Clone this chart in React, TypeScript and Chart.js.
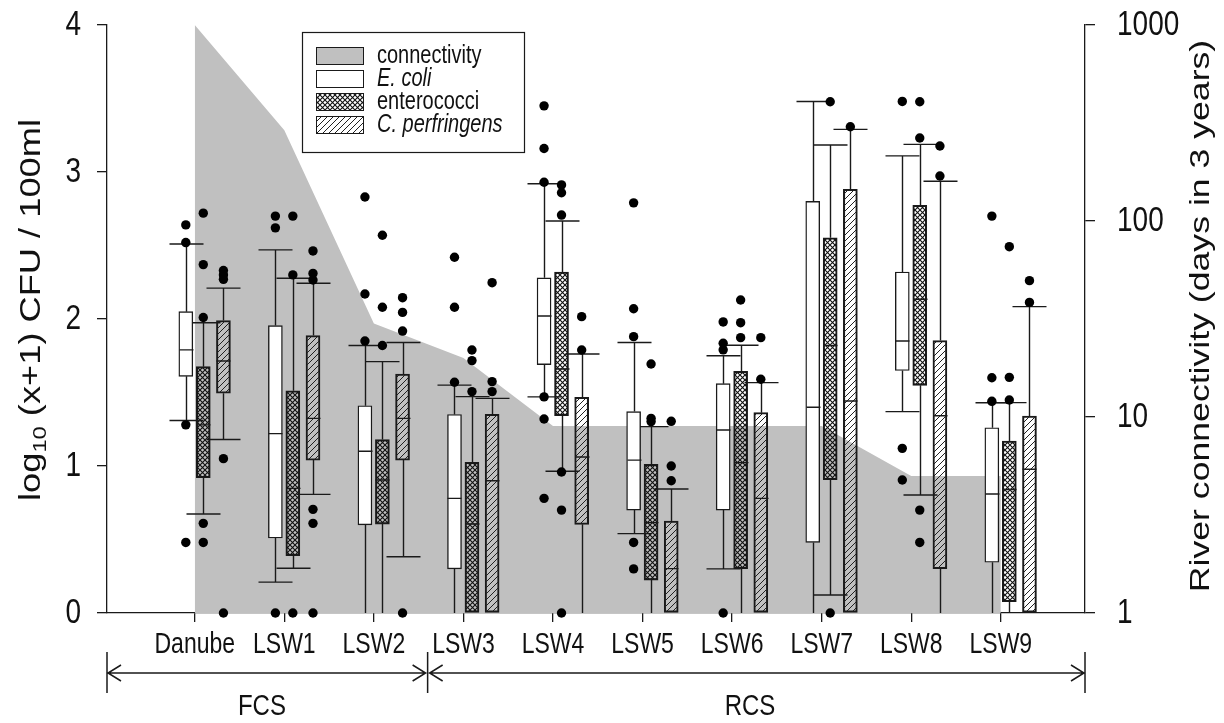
import React, { useEffect, useRef } from 'react';
import { Chart, registerables } from 'chart.js';

Chart.register(...registerables);

// ---------------- data ----------------
const categories = ['Danube', 'LSW1', 'LSW2', 'LSW3', 'LSW4', 'LSW5', 'LSW6', 'LSW7', 'LSW8', 'LSW9'];
const connectivityDays = [1000, 290, 30, 20, 9, 9, 9, 9, 5, 5];

const ecoliLow = [1.31, 0.21, 0, 0, 1.47, 0.54, 0.3, 0, 1.37, 0];
const ecoliQ1 = [1.61, 0.51, 0.6, 0.3, 1.69, 0.7, 0.7, 0.48, 1.65, 0.345];
const ecoliMedian = [1.79, 1.22, 1.1, 0.78, 2.02, 1.04, 1.245, 1.4, 1.85, 0.81];
const ecoliQ3 = [2.05, 1.955, 1.41, 1.35, 2.28, 1.37, 1.56, 2.8, 2.32, 1.26];
const ecoliHigh = [2.51, 2.47, 1.82, 1.55, 2.92, 1.84, 1.75, 3.48, 3.11, 1.43];
const ecoliOutliers = [
  [2.64, 2.52, 1.28, 0.48], [2.7, 2.62, 0], [2.83, 2.17, 1.85], [2.42, 2.08, 1.57],
  [3.45, 3.16, 2.93, 1.47, 1.32, 0.78], [2.79, 2.07, 1.88, 0.48, 0.3], [1.98, 1.835, 1.79, 0],
  [], [3.48, 1.12, 0.905], [2.7, 1.6, 1.44],
];

const enteroLow = [0.673, 0.304, 0, 0, 0.964, 0, 0, 0.122, 0.803, 0];
const enteroQ1 = [0.92, 0.39, 0.605, 0, 1.342, 0.224, 0.302, 0.907, 1.549, 0.077];
const enteroMedian = [1.28, 0.848, 0.905, 0.605, 1.66, 0.615, 1.023, 1.82, 2.134, 0.84];
const enteroQ3 = [1.676, 1.512, 1.18, 1.025, 2.32, 1.011, 1.644, 2.553, 2.773, 1.17];
const enteroHigh = [1.975, 2.277, 1.71, 1.472, 2.667, 1.268, 1.821, 3.184, 3.188, 1.431];
const enteroOutliers = [
  [2.72, 2.37, 2.01, 0.61, 0.48], [2.7, 2.3, 0], [2.57, 2.08, 1.82], [1.789, 1.717, 1.506],
  [2.912, 2.859, 2.707, 0.959, 0.7, 0], [1.694, 1.324, 1.302], [2.129, 1.975, 1.873],
  [3.478, 0], [3.478, 3.231, 0.7, 0.48], [2.492, 1.603, 1.449],
];

const cperfLow = [1.18, 0.807, 0.383, 0, 0, 0, 0, 0, 0, 0];
const cperfQ1 = [1.495, 1.04, 1.04, 0, 0.603, 0, 0, 0, 0.302, 0];
const cperfMedian = [1.714, 1.324, 1.324, 0.9, 1.061, 0.302, 0.78, 1.442, 1.342, 0.978];
const cperfQ3 = [1.99, 1.887, 1.626, 1.352, 1.467, 0.626, 1.363, 2.882, 1.853, 1.34];
const cperfHigh = [2.21, 2.243, 1.84, 1.46, 1.762, 0.844, 1.567, 3.29, 2.937, 2.084];
const cperfOutliers = [
  [2.33, 2.3, 2.27, 1.05, 0], [2.463, 2.31, 2.265, 0.705, 0.61, 0], [2.145, 2.045, 1.918, 0],
  [2.247, 1.574, 1.506], [2.016, 1.789], [1.304, 1.0, 0.9], [1.873, 1.59], [3.308],
  [3.177, 2.973], [2.261, 2.113],
];

const seriesLabels = ['E. coli', 'enterococci', 'C. perfringens'];
const legendLabels = ['connectivity', ...seriesLabels];
const groupLabels = ['FCS', 'RCS'];
const yTicks = [0, 1, 2, 3, 4];
const connTicks = [1, 10, 100, 1000];

// ---------------- style / layout ----------------
const FONT = '"Liberation Sans", Arial, Helvetica, sans-serif';
const STRETCH = 1.25; // the reference figure is stretched vertically
const INK = '#1a1a1a';
const GRAY = '#c0c0c0';
const seriesOffsets = [-0.1, 0.095, 0.32];
const BOX_W = 14;
const CAP_HALF = 17;
const FCS_SPLIT = 3.6;
const GROUP_LABEL_X = [1.75, 7.2];

const stats = [
  { low: ecoliLow, q1: ecoliQ1, med: ecoliMedian, q3: ecoliQ3, high: ecoliHigh, out: ecoliOutliers },
  { low: enteroLow, q1: enteroQ1, med: enteroMedian, q3: enteroQ3, high: enteroHigh, out: enteroOutliers },
  { low: cperfLow, q1: cperfQ1, med: cperfMedian, q3: cperfQ3, high: cperfHigh, out: cperfOutliers },
];

function makeCross(): CanvasPattern | string {
  const c = document.createElement('canvas');
  c.width = 5; c.height = 5;
  const g = c.getContext('2d');
  if (!g) return '#666';
  g.strokeStyle = '#111';
  g.lineWidth = 1.1;
  g.beginPath();
  g.moveTo(-1, -1); g.lineTo(6, 6);
  g.moveTo(6, -1); g.lineTo(-1, 6);
  g.stroke();
  return g.createPattern(c, 'repeat') || '#666';
}

function makeDiag(): CanvasPattern | string {
  const c = document.createElement('canvas');
  c.width = 6; c.height = 6;
  const g = c.getContext('2d');
  if (!g) return '#999';
  g.strokeStyle = '#222';
  g.lineWidth = 1;
  g.beginPath();
  g.moveTo(-1, 7); g.lineTo(7, -1);
  g.moveTo(-1, 1); g.lineTo(1, -1);
  g.moveTo(5, 7); g.lineTo(7, 5);
  g.stroke();
  return g.createPattern(c, 'repeat') || '#999';
}

function stretchedText(
  ctx: CanvasRenderingContext2D, text: string, x: number, y: number, font: string,
  sx: number, sy: number, align: CanvasTextAlign, baseline: CanvasTextBaseline,
) {
  ctx.save();
  ctx.translate(x, y);
  ctx.scale(sx, sy);
  ctx.font = font;
  ctx.textAlign = align;
  ctx.textBaseline = baseline;
  ctx.fillText(text, 0, 0);
  ctx.restore();
}

const noScalePadding = (s: any) => { s.paddingTop = 0; s.paddingBottom = 0; };

export default function App() {
  const ref = useRef<HTMLCanvasElement | null>(null);

  useEffect(() => {
    const canvas = ref.current;
    if (!canvas) return;
    const cross = makeCross();
    const diag = makeDiag();
    const fills: any[] = ['#ffffff', cross, diag];

    Chart.defaults.font.family = FONT;
    Chart.defaults.color = '#111';

    const boxDatasets = stats.map((st, s) => ({
      type: 'bar' as const,
      label: seriesLabels[s],
      data: categories.map((_, i) => ({ x: i + 1 + seriesOffsets[s], y: [st.q1[i], st.q3[i]] })),
      backgroundColor: fills[s],
      borderColor: INK,
      borderWidth: 1.4,
      borderSkipped: false,
      barThickness: BOX_W,
      grouped: false,
      xAxisID: 'x',
      yAxisID: 'y',
      order: 2,
    }));

    const outlierData: { x: number; y: number }[] = [];
    stats.forEach((st, s) => {
      st.out.forEach((vals, i) => {
        vals.forEach((v) => outlierData.push({ x: i + 1 + seriesOffsets[s], y: v }));
      });
    });

    const whiskerPlugin = {
      id: 'whiskers',
      afterDatasetDraw(chart: any, args: any) {
        const idx = args.index;
        if (idx < 1 || idx > 3) return;
        const s = idx - 1;
        const st = stats[s];
        const xs = chart.scales.x;
        const ys = chart.scales.y;
        const ctx = chart.ctx;
        ctx.save();
        ctx.strokeStyle = INK;
        ctx.lineWidth = 1.4;
        categories.forEach((_, i) => {
          const x = Math.round(xs.getPixelForValue(i + 1 + seriesOffsets[s])) + 0.5;
          const pLow = ys.getPixelForValue(st.low[i]);
          const pQ1 = ys.getPixelForValue(st.q1[i]);
          const pMed = ys.getPixelForValue(st.med[i]);
          const pQ3 = ys.getPixelForValue(st.q3[i]);
          const pHigh = ys.getPixelForValue(st.high[i]);
          ctx.beginPath();
          ctx.moveTo(x, pQ3); ctx.lineTo(x, pHigh);
          ctx.moveTo(x - CAP_HALF, pHigh); ctx.lineTo(x + CAP_HALF, pHigh);
          if (st.q1[i] > st.low[i]) {
            ctx.moveTo(x, pQ1); ctx.lineTo(x, pLow);
          }
          if (st.low[i] > 0) {
            ctx.moveTo(x - CAP_HALF, pLow); ctx.lineTo(x + CAP_HALF, pLow);
          }
          ctx.moveTo(x - BOX_W / 2, pMed); ctx.lineTo(x + BOX_W / 2, pMed);
          ctx.stroke();
        });
        ctx.restore();
      },
    };

    const decorPlugin = {
      id: 'decor',
      afterDraw(chart: any) {
        const ctx = chart.ctx;
        const area = chart.chartArea;
        const xs = chart.scales.x;
        const ys = chart.scales.y;
        const y2 = chart.scales.y2;
        ctx.save();
        ctx.fillStyle = '#111';
        ctx.strokeStyle = INK;

        // tick labels
        yTicks.forEach((v) => {
          stretchedText(ctx, String(v), area.left - 26, ys.getPixelForValue(v), `28px ${FONT}`, 1, STRETCH, 'right', 'middle');
        });
        connTicks.forEach((v) => {
          stretchedText(ctx, String(v), area.right + 32, y2.getPixelForValue(v), `28px ${FONT}`, 1, STRETCH, 'left', 'middle');
        });
        categories.forEach((c, i) => {
          stretchedText(ctx, c, xs.getPixelForValue(i + 1), 645, `23px ${FONT}`, 1, STRETCH, 'center', 'middle');
        });

        // left title with subscript
        ctx.save();
        ctx.translate(30, 310);
        ctx.rotate(-Math.PI / 2);
        ctx.scale(STRETCH, 1);
        const big = `29px ${FONT}`;
        const small = `19px ${FONT}`;
        const parts: [string, string, number][] = [
          ['log', big, 0], ['10', small, 6], [' (x+1) CFU / 100ml', big, 0],
        ];
        let total = 0;
        parts.forEach(([t, f]) => { ctx.font = f; total += ctx.measureText(t).width; });
        let px = -total / 2;
        ctx.textBaseline = 'alphabetic';
        ctx.textAlign = 'left';
        parts.forEach(([t, f, dy]) => {
          ctx.font = f;
          ctx.fillText(t, px, 10 + dy);
          px += ctx.measureText(t).width;
        });
        ctx.restore();

        // right title
        ctx.save();
        ctx.translate(1201, 316);
        ctx.rotate(-Math.PI / 2);
        ctx.scale(STRETCH, 1);
        ctx.font = `28.5px ${FONT}`;
        ctx.textAlign = 'center';
        ctx.textBaseline = 'middle';
        ctx.fillText('River connectivity (days in 3 years)', 0, 0);
        ctx.restore();

        // FCS / RCS brackets
        const xl = area.left;
        const xm = xs.getPixelForValue(FCS_SPLIT);
        const xr = area.right;
        const yb = 673;
        ctx.lineWidth = 1.5;
        ctx.beginPath();
        [xl, xm, xr].forEach((x) => { ctx.moveTo(x, 652); ctx.lineTo(x, 693); });
        ctx.moveTo(xl, yb); ctx.lineTo(xm - 2, yb);
        ctx.moveTo(xm + 2, yb); ctx.lineTo(xr, yb);
        const arrow = (x: number, dir: number) => {
          ctx.moveTo(x + dir * 13, yb - 8); ctx.lineTo(x, yb); ctx.lineTo(x + dir * 13, yb + 8);
        };
        arrow(xl + 1, 1); arrow(xm - 2, -1); arrow(xm + 2, 1); arrow(xr - 1, -1);
        ctx.stroke();
        ctx.fillStyle = '#111';
        groupLabels.forEach((g, i) => {
          stretchedText(ctx, g, xs.getPixelForValue(GROUP_LABEL_X[i]), 707, `24px ${FONT}`, 1, STRETCH, 'center', 'middle');
        });

        // legend
        const lx = 302, ly = 32, lw = 222, lh = 120;
        ctx.fillStyle = '#ffffff';
        ctx.fillRect(lx, ly, lw, lh);
        ctx.lineWidth = 1.2;
        ctx.strokeRect(lx + 0.5, ly + 0.5, lw, lh);
        const swatches = [GRAY, fills[0], fills[1], fills[2]];
        const italics = [false, true, false, true];
        legendLabels.forEach((label, r) => {
          const sy = 47 + r * 23;
          ctx.fillStyle = '#ffffff';
          ctx.fillRect(316, sy, 47, 17);
          ctx.fillStyle = swatches[r];
          ctx.fillRect(316, sy, 47, 17);
          ctx.lineWidth = 1;
          ctx.strokeStyle = INK;
          ctx.strokeRect(316.5, sy + 0.5, 47, 17);
          ctx.fillStyle = '#111';
          stretchedText(ctx, label, 377, sy + 9, `${italics[r] ? 'italic ' : ''}20px ${FONT}`, 1, STRETCH, 'left', 'middle');
        });
        ctx.restore();
      },
    };

    const chart = new Chart(canvas, {
      type: 'bar',
      data: {
        datasets: [
          {
            type: 'line',
            label: 'connectivity',
            data: categories.map((_, i) => ({ x: i + 1, y: connectivityDays[i] })),
            xAxisID: 'x',
            yAxisID: 'y2',
            fill: 'start',
            backgroundColor: GRAY,
            borderWidth: 0,
            borderColor: GRAY,
            pointRadius: 0,
            tension: 0,
            order: 3,
          } as any,
          ...(boxDatasets as any[]),
          {
            type: 'scatter',
            label: 'outliers',
            data: outlierData,
            xAxisID: 'x',
            yAxisID: 'y',
            backgroundColor: '#000',
            borderWidth: 0,
            pointRadius: 4.7,
            clip: false,
            order: 0,
          } as any,
        ],
      },
      options: {
        responsive: false,
        animation: false,
        events: [],
        layout: { padding: { top: 25, left: 0, right: 0, bottom: 0 } },
        plugins: { legend: { display: false }, tooltip: { enabled: false } },
        scales: {
          x: {
            type: 'linear',
            position: 'bottom',
            min: 0.02,
            max: 10.94,
            offset: false,
            afterBuildTicks: (s: any) => { s.ticks = categories.map((_, i) => ({ value: i + 1 })); },
            afterFit: (s: any) => { s.height = 110; s.paddingLeft = 0; s.paddingRight = 0; },
            ticks: { display: false, autoSkip: false, maxRotation: 0 },
            grid: { drawOnChartArea: false, drawTicks: true, tickLength: 9, color: INK, lineWidth: 1.3, offset: false },
            border: { display: true, color: INK, width: 1.3 },
          },
          y: {
            type: 'linear',
            position: 'left',
            min: 0,
            max: 4,
            afterBuildTicks: (s: any) => { s.ticks = yTicks.map((v) => ({ value: v })); },
            afterFit: (s: any) => { s.width = 107; noScalePadding(s); },
            ticks: { display: false },
            grid: { drawOnChartArea: false, drawTicks: true, tickLength: 10, color: INK, lineWidth: 1.3 },
            border: { display: true, color: INK, width: 1.3 },
          },
          y2: {
            type: 'logarithmic',
            position: 'right',
            min: 1,
            max: 1000,
            afterBuildTicks: (s: any) => { s.ticks = connTicks.map((v) => ({ value: v, major: true })); },
            afterFit: (s: any) => { s.width = 139; noScalePadding(s); },
            ticks: { display: false },
            grid: { drawOnChartArea: false, drawTicks: true, tickLength: 10, color: INK, lineWidth: 1.3 },
            border: { display: true, color: INK, width: 1.3 },
          },
        },
      } as any,
      plugins: [whiskerPlugin, decorPlugin],
    });

    return () => chart.destroy();
  }, []);

  return (
    <div style={{ position: 'fixed', left: 0, top: 0, width: 1224, height: 723, background: '#fff' }}>
      <canvas ref={ref} width={1224} height={723} style={{ width: 1224, height: 723, display: 'block' }} />
    </div>
  );
}
